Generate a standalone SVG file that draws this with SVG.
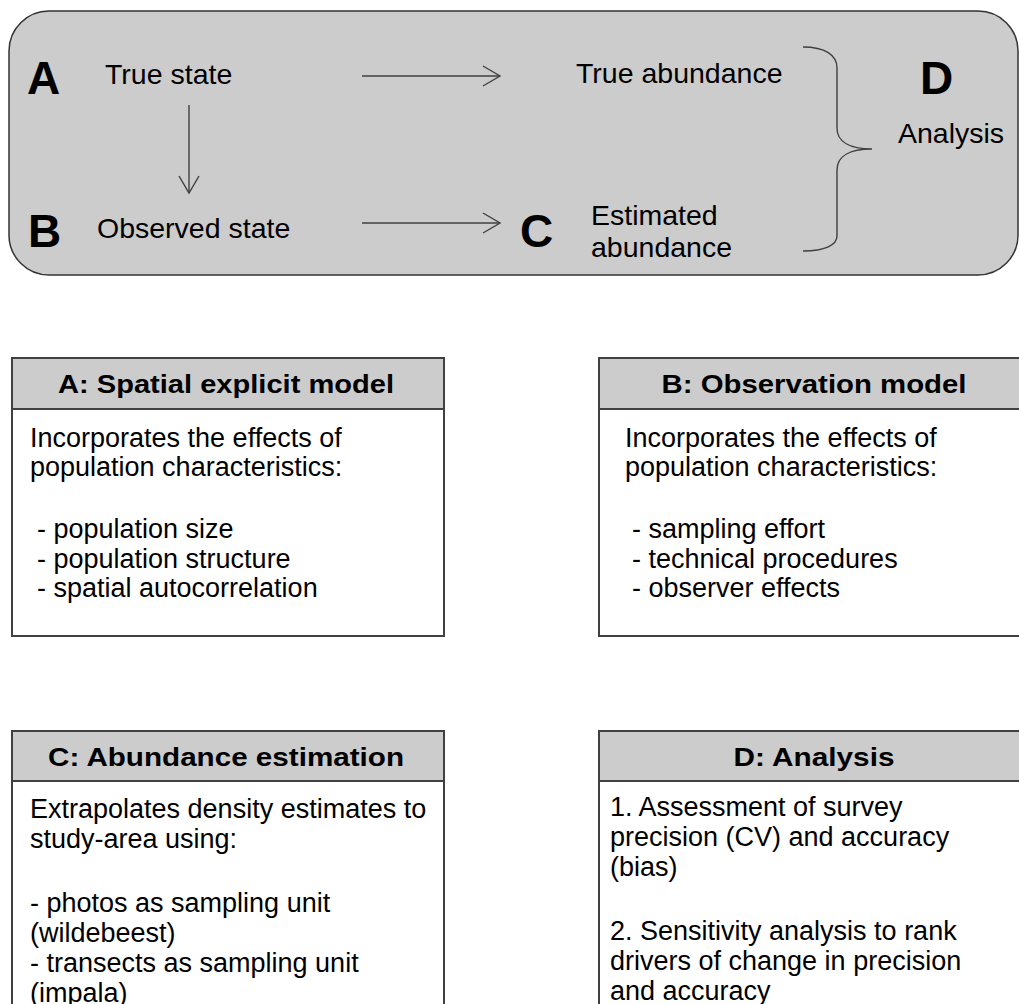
<svg xmlns="http://www.w3.org/2000/svg" width="1019" height="1004" viewBox="0 0 1019 1004">
<defs>
<style>
.t{font-family:"Liberation Sans",Arial,sans-serif;fill:#000}
.big{font-size:46px;font-weight:bold}
.lab{font-size:28.5px}
.hd{font-size:26.5px;font-weight:bold}
.bd{font-size:27px}
.box{fill:#fff;stroke:#404040;stroke-width:2}
.hdr{fill:#cccccc;stroke:#404040;stroke-width:2}
.con{stroke:#404040;stroke-width:1.4;fill:none}
</style>
<marker id="arr" markerUnits="userSpaceOnUse" markerWidth="20" markerHeight="24" refX="17" refY="10" orient="auto" viewBox="-1 -1 20 24">
<path d="M0,0 L17,10 L0,20" fill="none" stroke="#404040" stroke-width="1.4"/>
</marker>
</defs>
<rect width="1019" height="1004" fill="#fff"/>

<g id="overview">
<rect x="9" y="11" width="1009" height="264" rx="40" ry="40" fill="#cccccc" stroke="#333" stroke-width="1.5"/>
<text class="t big" x="27" y="94">A</text>
<text class="t lab" x="105" y="84">True state</text>
<text class="t big" x="28" y="247">B</text>
<text class="t lab" x="97" y="238">Observed state</text>
<text class="t lab" x="576" y="83">True abundance</text>
<text class="t big" x="520" y="247">C</text>
<text class="t lab" x="591" y="225">Estimated</text>
<text class="t lab" x="591" y="257">abundance</text>
<text class="t big" x="920" y="94">D</text>
<text class="t lab" x="898" y="143">Analysis</text>
</g>

<g id="connectors">
<line class="con" x1="362" y1="76" x2="500" y2="76" marker-end="url(#arr)"/>
<line class="con" x1="362" y1="223" x2="500" y2="223" marker-end="url(#arr)"/>
<line class="con" x1="189" y1="105" x2="189" y2="193" marker-end="url(#arr)"/>
<path class="con" d="M803,47 C825,47 837,55 837,68 L837,128 C837,142 850,149 872,149 C850,149 837,156 837,170 L837,236 C837,245 825,251 803,251"/>
</g>

<g id="boxA">
<rect class="box" x="12" y="358" width="432" height="278"/>
<rect class="hdr" x="12" y="358" width="432" height="51"/>
<text class="t hd" x="226" y="393" text-anchor="middle" textLength="336" lengthAdjust="spacingAndGlyphs">A: Spatial explicit model</text>
<text class="t bd" x="30" y="447">Incorporates the effects of</text>
<text class="t bd" x="30" y="476">population characteristics:</text>
<text class="t bd" x="37" y="538">- population size</text>
<text class="t bd" x="37" y="568">- population structure</text>
<text class="t bd" x="37" y="597">- spatial autocorrelation</text>
</g>

<g id="boxB">
<rect class="box" x="599" y="358" width="432" height="278"/>
<rect class="hdr" x="599" y="358" width="432" height="51"/>
<text class="t hd" x="814" y="393" text-anchor="middle" textLength="305" lengthAdjust="spacingAndGlyphs">B: Observation model</text>
<text class="t bd" x="625" y="447">Incorporates the effects of</text>
<text class="t bd" x="625" y="476">population characteristics:</text>
<text class="t bd" x="632" y="538">- sampling effort</text>
<text class="t bd" x="632" y="568">- technical procedures</text>
<text class="t bd" x="632" y="597">- observer effects</text>
</g>

<g id="boxC">
<rect class="box" x="12" y="731" width="432" height="300"/>
<rect class="hdr" x="12" y="731" width="432" height="50"/>
<text class="t hd" x="226" y="766" text-anchor="middle" textLength="356" lengthAdjust="spacingAndGlyphs">C: Abundance estimation</text>
<text class="t bd" x="30" y="818">Extrapolates density estimates to</text>
<text class="t bd" x="30" y="848">study-area using:</text>
<text class="t bd" x="30" y="912">- photos as sampling unit</text>
<text class="t bd" x="30" y="942">(wildebeest)</text>
<text class="t bd" x="30" y="972">- transects as sampling unit</text>
<text class="t bd" x="30" y="1002">(impala)</text>
</g>

<g id="boxD">
<rect class="box" x="599" y="731" width="432" height="300"/>
<rect class="hdr" x="599" y="731" width="432" height="50"/>
<text class="t hd" x="814" y="766" text-anchor="middle" textLength="161" lengthAdjust="spacingAndGlyphs">D: Analysis</text>
<text class="t bd" x="610" y="816">1. Assessment of survey</text>
<text class="t bd" x="610" y="846">precision (CV) and accuracy</text>
<text class="t bd" x="610" y="876">(bias)</text>
<text class="t bd" x="610" y="940">2. Sensitivity analysis to rank</text>
<text class="t bd" x="610" y="970">drivers of change in precision</text>
<text class="t bd" x="610" y="1000">and accuracy</text>
</g>
</svg>
